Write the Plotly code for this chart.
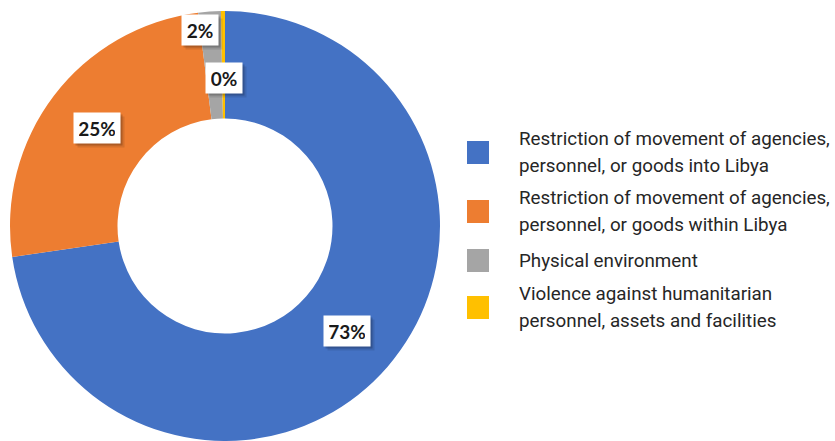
import math
import plotly.graph_objects as go

# ---- data ----
categories = [
    "Restriction of movement of agencies,<br>personnel, or goods into Libya",
    "Restriction of movement of agencies,<br>personnel, or goods within Libya",
    "Physical environment",
    "Violence against humanitarian<br>personnel, assets and facilities",
]
shares = [72.7, 25.3, 1.7, 0.3]
colors = ["#4472C4", "#ED7D31", "#A5A5A5", "#FFC000"]
label_radius = [0.75, 0.75, 0.92, 0.69]   # label distance as fraction of outer radius
label_nudge_deg = [0, 0, -3, 0]           # small angular nudge to avoid overlap

W, H = 835, 441
CX, CY, R = 225, 226, 215  # donut centre / radius in pixels

fig = go.Figure()
fig.add_trace(go.Pie(
    values=shares,
    labels=[c.replace("<br>", " ") for c in categories],
    marker=dict(colors=colors, line=dict(width=0)),
    hole=0.5,
    sort=False,
    direction="clockwise",
    rotation=0,
    textinfo="none",
    hoverinfo="label+percent",
    showlegend=False,
    domain=dict(x=[max(0, (CX - R) / W), (CX + R) / W],
                y=[max(0, (H - CY - R) / H), min(1, (H - CY + R) / H)]),
))

# ---- data labels (white boxes with shadow), placed from slice mid-angles ----
total = sum(shares)
cum = 0.0
annotations = []
for v, rf, nd in zip(shares, label_radius, label_nudge_deg):
    mid = (cum + v / 2) / total * 2 * math.pi + math.radians(nd)
    cum += v
    px = CX + rf * R * math.sin(mid)
    py = CY - rf * R * math.cos(mid)
    txt = f"{round(v / total * 100):.0f}%"
    bw = 10 * len(txt) + 6
    common = dict(x=px / W, y=1 - py / H, xref="paper", yref="paper", showarrow=False,
                  width=bw, height=20, borderpad=5, xanchor="center", yanchor="middle")
    annotations.append(dict(common, text=" ", bgcolor="rgba(0,0,0,0.10)", xshift=4, yshift=-4))
    annotations.append(dict(common, text=" ", bgcolor="rgba(0,0,0,0.18)", xshift=2, yshift=-2))
    annotations.append(dict(common, text=f"<b>{txt}</b>", bgcolor="white",
                            font=dict(family="Lato", size=19, color="#1a1a1a")))

# ---- legend (manual) ----
legend_sq_x = 478
legend_sq_y = [152.5, 211.5, 260.5, 307.5]
legend_text_x = 517
line_gap = 27
shapes = []
for cat, col, sy in zip(categories, colors, legend_sq_y):
    shapes.append(dict(type="rect", xref="paper", yref="paper",
                       x0=(legend_sq_x - 11) / W, x1=(legend_sq_x + 11) / W,
                       y0=1 - (sy + 11.5) / H, y1=1 - (sy - 11.5) / H,
                       fillcolor=col, line=dict(width=0)))
    lines = cat.split("<br>")
    n = len(lines)
    for i, ln in enumerate(lines):
        ly = sy + (i - (n - 1) / 2) * line_gap
        annotations.append(dict(x=legend_text_x / W, y=1 - ly / H, xref="paper", yref="paper",
                                text=ln, showarrow=False, xanchor="left", yanchor="middle",
                                font=dict(family="Roboto", size=18.8, color="#262626")))

fig.update_layout(
    width=W, height=H,
    margin=dict(l=0, r=0, t=0, b=0),
    paper_bgcolor="white", plot_bgcolor="white",
    annotations=annotations, shapes=shapes,
    showlegend=False,
)
fig.write_html("out.html", config={"displayModeBar": False},
               post_script="document.body.style.margin='0px';document.body.style.overflow='hidden';")
